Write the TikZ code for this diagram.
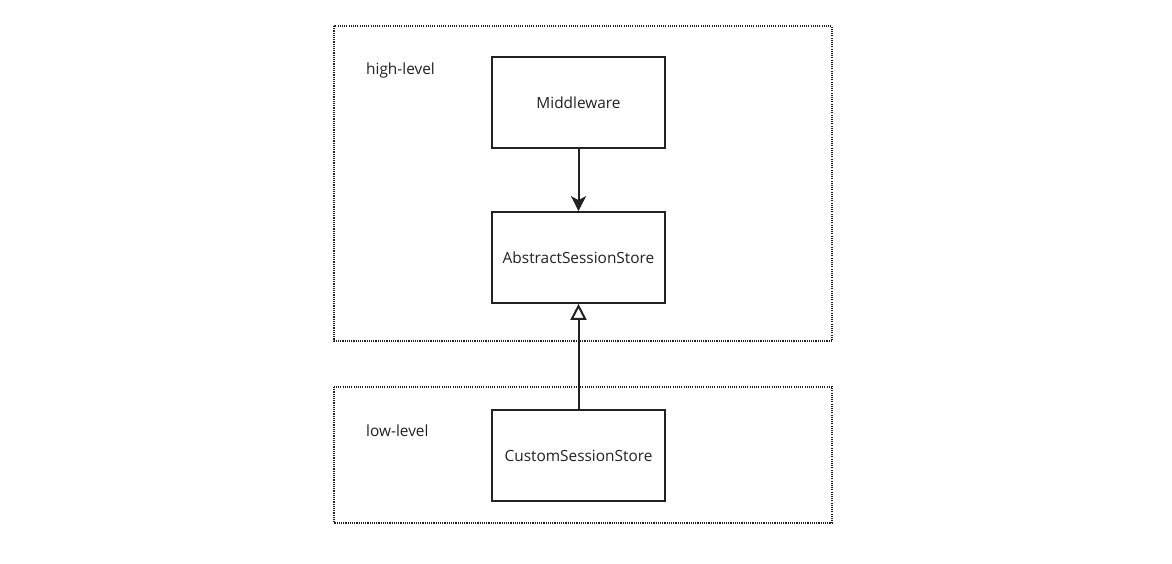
\documentclass[tikz,border=0pt]{standalone}
\usepackage{fontspec}
\setmainfont{Open Sans}
\usetikzlibrary{arrows.meta}
\definecolor{ink}{HTML}{222222}
\tikzset{
  box/.style={draw=ink, line width=1.7pt, minimum width=173pt, minimum height=91pt, inner sep=0pt, font=\fontsize{15.4}{18}\selectfont, text=ink},
  frame/.style={draw=ink, line width=1.1pt, dash pattern=on 1.1pt off 1.1pt},
  lbl/.style={anchor=west, inner sep=0pt, font=\fontsize{15.4}{18}\selectfont, text=ink},
  dep/.style={draw=ink, line width=2pt, -{Stealth[length=15pt,width=15pt,inset=4pt]}},
  inh/.style={draw=ink, line width=2pt, -{Triangle[open,length=16pt,width=16pt,fill=white]}}
}
\begin{document}
\begin{tikzpicture}[x=1pt,y=-1pt]
\useasboundingbox (0,0) rectangle (1172,563);
\draw[frame] (334,26) rectangle (832,341);
\draw[frame] (334,387) rectangle (832,523);
\node[lbl] (hl) at (366,70) {high-level};
\node[lbl] (ll) at (366,431) {low-level};
\node[box] (mw) at (578.5,102.5) {Middleware};
\node[box] (ass) at (578.5,257.5) {AbstractSessionStore};
\node[box] (css) at (578.5,455.5) {CustomSessionStore};
\draw[dep] (mw) -- (ass);
\draw[inh] (css) -- (ass);
\end{tikzpicture}
\end{document}
